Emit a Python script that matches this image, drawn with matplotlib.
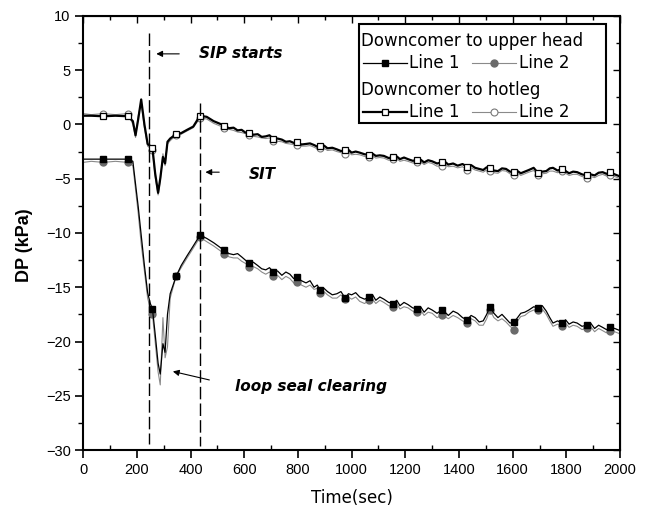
import numpy as np
import matplotlib.pyplot as plt
from matplotlib.lines import Line2D
from matplotlib.patches import Rectangle
from matplotlib.ticker import MultipleLocator

plt.rcParams['font.family'] = ['Liberation Sans', 'DejaVu Sans']

#--------------------------------------------------------------------------------------------------------
# data (time in sec, DP in kPa)

time = [0, 30, 75, 120, 167, 185, 195, 205, 216, 228, 240, 250, 258, 268, 279,
        287, 297, 305, 314, 324, 346, 365, 387, 410, 435, 460, 486,
        525, 543, 560, 575, 590, 604, 618, 634, 650, 665,
        680, 694, 708, 724, 740, 755, 770, 784, 797, 813,
        830, 845, 860, 872, 883, 897, 910, 928, 945, 960,
        976, 988, 1000, 1015, 1030, 1048, 1065, 1078, 1090, 1105,
        1120, 1138, 1155, 1168, 1180, 1195, 1210, 1227, 1244, 1257,
        1270, 1285, 1300, 1318, 1335, 1348, 1360, 1378, 1395, 1413,
        1430, 1445, 1460, 1475, 1490, 1503, 1515, 1530, 1545, 1560,
        1575, 1590, 1605, 1618, 1630, 1645, 1660, 1678, 1695, 1710,
        1725, 1738, 1750, 1767, 1784, 1797, 1810, 1825, 1840, 1858,
        1875, 1890, 1905, 1920, 1935, 1949, 1963, 1980, 2000]

# Downcomer to hotleg
hotleg_1 = [0.8, 0.8, 0.75, 0.8, 0.75, 0.3, -1.0, 0.5, 2.3, 0.0, -1.8, -2.0, -2.2, -4.5, -6.3,
            -5.0, -3.0, -3.6, -1.6, -1.3, -0.9, -0.8, -0.5, -0.2, 0.8, 0.7, 0.3,
            -0.1, -0.35, -0.3, -0.55, -0.5, -0.75, -0.75, -0.95, -0.9, -1.15,
            -1.1, -1.0, -1.35, -1.3, -1.4, -1.6, -1.55, -1.7, -1.65, -1.85,
            -1.8, -1.75, -1.9, -2.05, -2.0, -1.95, -2.2, -2.15, -2.3, -2.45,
            -2.4, -2.35, -2.6, -2.5, -2.6, -2.75, -2.8, -2.7, -2.9, -2.85,
            -2.9, -3.1, -3.0, -2.95, -3.2, -3.05, -3.2, -3.35, -3.3, -3.25,
            -3.5, -3.3, -3.4, -3.6, -3.5, -3.45, -3.7, -3.6, -3.8, -3.65,
            -3.9, -3.75, -4.0, -4.1, -4.2, -3.95, -4.0, -4.25, -4.3, -4.05,
            -4.1, -4.35, -4.4, -4.3, -4.5, -4.35, -4.2, -4.0, -4.5, -4.35,
            -4.3, -4.05, -4.0, -4.25, -4.1, -4.3, -4.5, -4.35, -4.4, -4.6,
            -4.7, -4.6, -4.7, -4.45, -4.4, -4.55, -4.4, -4.6, -4.8]
hotleg_2 = [1.0, 0.9, 1.0, 0.9, 1.0, 0.0, -1.2, 0.8, 2.0, -0.3, -2.0, -2.2, -2.4, -4.8, -6.5,
            -5.2, -2.7, -3.8, -1.8, -1.5, -1.0, -0.9, -0.6, -0.3, 0.6, 0.5, 0.1,
            -0.3, -0.45, -0.55, -0.7, -0.75, -0.85, -0.95, -1.1, -1.15, -1.25,
            -1.3, -1.25, -1.5, -1.55, -1.6, -1.75, -1.8, -1.85, -1.9, -2.0,
            -2.0, -1.95, -2.1, -2.25, -2.2, -2.2, -2.4, -2.35, -2.5, -2.6,
            -2.7, -2.55, -2.8, -2.75, -2.8, -2.95, -3.0, -2.9, -3.1, -3.05,
            -3.1, -3.3, -3.2, -3.15, -3.4, -3.3, -3.4, -3.55, -3.5, -3.45,
            -3.7, -3.5, -3.6, -3.85, -3.8, -3.7, -3.9, -3.85, -4.0, -3.9,
            -4.2, -4.0, -4.2, -4.3, -4.4, -4.2, -4.3, -4.45, -4.5, -4.25,
            -4.3, -4.55, -4.7, -4.5, -4.7, -4.55, -4.4, -4.25, -4.7, -4.55,
            -4.5, -4.3, -4.3, -4.45, -4.3, -4.5, -4.7, -4.6, -4.6, -4.8,
            -4.9, -4.8, -4.9, -4.7, -4.6, -4.75, -4.7, -4.8, -5.0]

# Downcomer to upper head
uhead_1 = [-3.2, -3.2, -3.2, -3.2, -3.2, -3.4, -5.5, -7.6, -10.2, -13.0, -15.5, -16.5, -17.0, -19.3, -22.0,
           -23.0, -20.2, -21.0, -17.5, -15.6, -14.0, -13.0, -12.1, -11.2, -10.2, -10.5, -10.9,
           -11.6, -11.9, -12.0, -11.9, -12.2, -12.5, -12.8, -12.7, -13.0, -13.3,
           -13.4, -13.2, -13.6, -13.5, -13.9, -13.6, -13.8, -14.2, -14.1, -14.4,
           -14.6, -14.4, -15.0, -14.8, -15.3, -15.1, -15.4, -15.7, -15.6, -15.4,
           -16.0, -15.6, -15.7, -15.5, -15.9, -16.1, -15.9, -15.7, -16.2, -15.9,
           -16.1, -16.4, -16.5, -16.2, -16.7, -16.4, -16.6, -16.9, -17.0, -16.8,
           -17.3, -16.9, -17.1, -17.4, -17.1, -17.3, -17.6, -17.2, -17.4, -17.8,
           -18.0, -17.6, -17.8, -18.2, -18.1, -17.5, -16.8, -17.4, -17.8, -17.5,
           -17.9, -18.3, -18.2, -17.8, -17.4, -17.3, -17.1, -16.8, -16.9, -16.7,
           -17.2, -17.8, -18.3, -18.1, -18.3, -18.0, -18.4, -18.2, -18.3, -18.6,
           -18.5, -18.3, -18.8, -18.5, -18.7, -18.9, -18.7, -18.8, -19.0]
uhead_2 = [-3.5, -3.4, -3.5, -3.4, -3.5, -3.8, -6.0, -8.2, -11.0, -13.5, -16.0, -17.0, -17.5, -20.0, -22.8,
           -24.0, -17.8, -21.5, -20.5, -16.0, -14.0, -13.2, -12.3, -11.4, -10.4, -10.8, -11.2,
           -11.9, -12.2, -12.3, -12.3, -12.6, -12.8, -13.1, -13.1, -13.3, -13.6,
           -13.8, -13.6, -14.0, -13.9, -14.3, -14.0, -14.2, -14.6, -14.5, -14.8,
           -15.0, -14.8, -15.2, -15.1, -15.5, -15.4, -15.7, -16.0, -16.0, -15.7,
           -16.1, -15.9, -16.1, -15.9, -16.3, -16.5, -16.2, -16.1, -16.5, -16.2,
           -16.4, -16.7, -16.8, -16.5, -17.0, -16.8, -16.9, -17.2, -17.3, -17.1,
           -17.6, -17.3, -17.4, -17.8, -17.6, -17.7, -17.9, -17.6, -17.8, -18.1,
           -18.3, -17.9, -18.1, -18.5, -18.5, -17.9, -17.1, -17.8, -18.1, -17.9,
           -18.2, -18.6, -18.9, -18.1, -17.7, -17.6, -17.3, -17.1, -17.1, -17.0,
           -17.5, -18.1, -18.6, -18.4, -18.6, -18.3, -18.7, -18.5, -18.6, -18.9,
           -18.8, -18.6, -19.1, -18.8, -19.0, -19.2, -19.0, -19.1, -19.3]

# times where the symbols sit
marker_times = [75, 167, 258, 346, 435, 525, 618, 708, 797, 883, 976, 1065, 1155, 1244,
                1335, 1430, 1515, 1605, 1695, 1784, 1875, 1963]

sip_start = 246
sit_time = 436

#--------------------------------------------------------------------------------------------------------

fig = plt.figure(figsize=(6.5, 5.12), dpi=100)
ax = fig.add_axes([0.128, 0.121, 0.826, 0.848])

t = np.array(time)
mark_idx = list(np.where(np.isin(t, marker_times))[0])

styles = {
    'uh1': dict(color='black', lw=0.9, marker='s', ms=5, mfc='black', mec='black'),
    'uh2': dict(color='#8a8a8a', lw=0.8, marker='o', ms=5, mfc='#6a6a6a', mec='#6a6a6a'),
    'hl1': dict(color='black', lw=1.6, marker='s', ms=5, mfc='white', mec='black', mew=0.9),
    'hl2': dict(color='#8a8a8a', lw=0.8, marker='o', ms=5, mfc='white', mec='#777777', mew=0.8),
}

ax.plot(t, uhead_2, markevery=mark_idx, **styles['uh2'])
ax.plot(t, uhead_1, markevery=mark_idx, **styles['uh1'])
ax.plot(t, hotleg_2, markevery=mark_idx, **styles['hl2'])
ax.plot(t, hotleg_1, markevery=mark_idx, **styles['hl1'])

# event lines
ax.plot([sip_start, sip_start], [8.4, -29.4], color='black', lw=1.0, ls=(0, (9, 3)))
ax.plot([sit_time, sit_time], [2.0, -29.6], color='black', lw=1.0, ls=(0, (9, 3)))

arrow = dict(arrowstyle='-|>', color='black', lw=0.8, mutation_scale=9)
note = dict(fontsize=11, fontweight='bold', fontstyle='italic', va='center', family='DejaVu Sans')
ax.annotate('', xy=(262, 6.5), xytext=(368, 6.5), arrowprops=arrow)
ax.text(433, 6.5, 'SIP starts', **note)
ax.annotate('', xy=(445, -4.4), xytext=(517, -4.4), arrowprops=arrow)
ax.text(615, -4.6, 'SIT', **note)
ax.annotate('', xy=(324, -22.7), xytext=(480, -23.6), arrowprops=arrow)
ax.text(566, -24.1, 'loop seal clearing', **note)

ax.set_xlim(0, 2000)
ax.set_ylim(-30, 10)
ax.xaxis.set_major_locator(MultipleLocator(200))
ax.xaxis.set_minor_locator(MultipleLocator(100))
ax.yaxis.set_major_locator(MultipleLocator(5))
ax.yaxis.set_minor_locator(MultipleLocator(2.5))
ax.tick_params(which='major', direction='out', length=6, width=1.2, labelsize=10.5, pad=3)
ax.tick_params(which='minor', direction='out', length=3.5, width=1.0)
ax.tick_params(axis='x', which='minor', direction='in')
for s in ax.spines.values():
    s.set_linewidth(1.5)

# mirrored ticks on top and right, pointing in
top = ax.secondary_xaxis('top')
top.xaxis.set_major_locator(MultipleLocator(200))
top.xaxis.set_minor_locator(MultipleLocator(100))
top.tick_params(which='both', direction='in', labeltop=False, width=1.0)
top.tick_params(which='major', length=5)
top.tick_params(which='minor', length=3)
right = ax.secondary_yaxis('right')
right.yaxis.set_major_locator(MultipleLocator(5))
right.yaxis.set_minor_locator(MultipleLocator(2.5))
right.tick_params(which='both', direction='in', labelright=False, width=1.0)
right.tick_params(which='major', length=5)
right.tick_params(which='minor', length=3)

ax.set_xlabel('Time(sec)', fontsize=12, family='DejaVu Sans', labelpad=9)
ax.set_ylabel('DP (kPa)', fontsize=13, fontweight='bold')
ax.yaxis.set_label_coords(-0.094, 0.472)

#--------------------------------------------------------------------------------------------------------
# legend drawn by hand: two headers, each followed by a row with two entries

tr = ax.transAxes
ax.add_patch(Rectangle((0.514, 0.753), 0.460, 0.229, transform=tr, fill=False,
                       ec='black', lw=1.5, zorder=5))
rows = [
    ('Downcomer to upper head', 0.941, 'uh1', 'uh2', 0.891),
    ('Downcomer to hotleg', 0.830, 'hl1', 'hl2', 0.779),
]
for header, yh, k1, k2, ye in rows:
    ax.text(0.518, yh, header, transform=tr, fontsize=12, va='center', zorder=6, family='DejaVu Sans')
    for key, x0, x1, xt, label in [(k1, 0.521, 0.603, 0.607, 'Line 1'),
                                   (k2, 0.724, 0.806, 0.812, 'Line 2')]:
        st = dict(styles[key])
        ax.add_line(Line2D([x0, x1], [ye, ye], transform=tr, zorder=6,
                           **{k: v for k, v in st.items() if k not in ('marker', 'ms', 'mfc', 'mec', 'mew')}))
        ax.add_line(Line2D([(x0 + x1) / 2], [ye], transform=tr, zorder=6, ls='none',
                           marker=st['marker'], ms=st['ms'], mfc=st['mfc'], mec=st['mec'],
                           mew=st.get('mew', 1.0)))
        ax.text(xt, ye, label, transform=tr, fontsize=12, va='center', zorder=6, family='DejaVu Sans')

plt.savefig('out.png', dpi=100)
